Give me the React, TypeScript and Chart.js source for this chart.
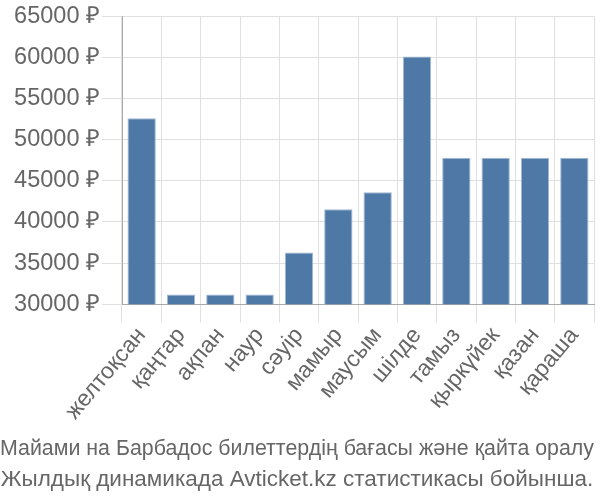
import React, { useEffect, useRef } from "react";
import { Chart, registerables } from "chart.js";

Chart.register(...registerables);

const categories = ["желтоқсан", "қаңтар", "ақпан", "наур", "сәуір", "мамыр", "маусым", "шілде", "тамыз", "қыркүйек", "қазан", "қараша"];
const prices = [52600, 31200, 31200, 31200, 36300, 41550, 43600, 60100, 47800, 47800, 47800, 47800];
const yMin = 30000;
const yMax = 65000;
const yStep = 5000;
const currency = " ₽";
const titleLines = ["Майами на Барбадос билеттердің бағасы және қайта оралу", "Жылдық динамикада Avticket.kz статистикасы бойынша."];

export default function App() {
  const ref = useRef<HTMLCanvasElement>(null);
  useEffect(() => {
    document.body.style.margin = "0";
    const chart = new Chart(ref.current!, {
      type: "bar",
      data: {
        labels: categories,
        datasets: [{
          data: prices,
          backgroundColor: "#4e79a7",
          borderColor: "#a3b9d3",
          borderWidth: 1,
        }],
      },
      options: {
        animation: false,
        responsive: false,
        layout: { padding: { right: 6, top: 14, left: 0 } },
        plugins: {
          legend: { display: false },
          tooltip: { enabled: false },
          title: {
            display: true,
            position: "bottom",
            text: titleLines,
            color: "#666",
            font: { family: "'Liberation Sans Narrow', 'Liberation Sans'", size: 22.5, weight: "normal", lineHeight: 1.37 },
            padding: { top: 10, bottom: 5 },
          },
        },
        scales: {
          x: {
            grid: { color: "#e0e0e0", tickLength: 18, offset: true },
            border: { color: "#aaa" },
            ticks: { autoSkip: false, color: "#666", font: { family: "'Liberation Sans'", size: 23 }, minRotation: 50, maxRotation: 50, padding: 0 },
            afterFit: (s: any) => { s.height = 119; },
          },
          y: {
            min: yMin,
            max: yMax,
            grid: { color: "#e0e0e0", tickLength: 20 },
            border: { color: "#aaa" },
            ticks: { stepSize: yStep, color: "#666", font: { family: "'Liberation Sans'", size: 23.5 }, padding: 2, callback: (v: any) => v + currency },
            afterFit: (s: any) => { s.width = 122; },
          },
        },
      },
    });
    return () => chart.destroy();
  }, []);
  return <canvas ref={ref} width={600} height={500} />;
}
